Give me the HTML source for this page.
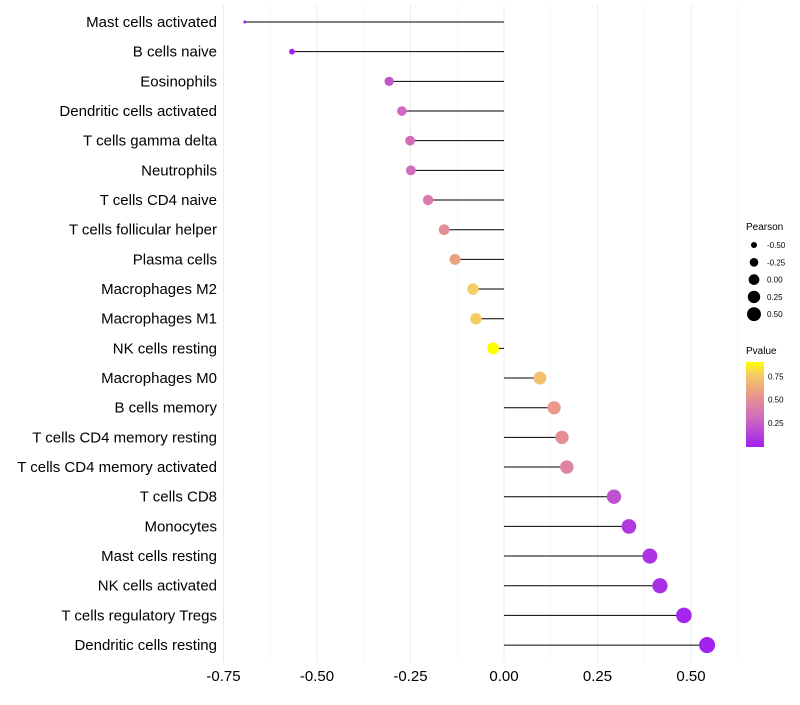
<!DOCTYPE html>
<html><head><meta charset="utf-8"><style>
body{margin:0;background:#fff;font-family:"Liberation Sans",sans-serif}
</style></head><body>
<svg id="c" width="800" height="700" xmlns="http://www.w3.org/2000/svg" font-family="Liberation Sans, sans-serif"></svg>
<script>
const categories=["Mast cells activated","B cells naive","Eosinophils","Dendritic cells activated","T cells gamma delta","Neutrophils","T cells CD4 naive","T cells follicular helper","Plasma cells","Macrophages M2","Macrophages M1","NK cells resting","Macrophages M0","B cells memory","T cells CD4 memory resting","T cells CD4 memory activated","T cells CD8","Monocytes","Mast cells resting","NK cells activated","T cells regulatory  Tregs ","Dendritic cells resting"];
const pearson=[-0.693,-0.567,-0.307,-0.273,-0.251,-0.249,-0.203,-0.160,-0.131,-0.083,-0.075,-0.029,0.096,0.134,0.155,0.168,0.294,0.334,0.390,0.417,0.481,0.543];
const pvalue=[0.0,0.02,0.22,0.3,0.32,0.32,0.4,0.5,0.6,0.78,0.78,0.91,0.72,0.56,0.5,0.45,0.2,0.1,0.08,0.06,0.03,0.01];
const xTicks=[-0.75,-0.5,-0.25,0,0.25,0.5];
const xMinor=[-0.625,-0.375,-0.125,0.125,0.375,0.625];
const sizeLegend=[-0.5,-0.25,0,0.25,0.5];
const pLegend=[0.25,0.5,0.75];
const NS="http://www.w3.org/2000/svg",svg=document.getElementById('c');
const X=v=>504+v*374;
const Y=i=>22+i*29.67;
const R=v=>Math.sqrt(Math.max(2.25,36.9+50.2*v));
const stops=[[0,[160,32,240]],[0.3,[205,105,190]],[0.55,[232,150,140]],[0.78,[245,205,100]],[0.91,[255,255,0]]];
function col(p){for(let k=1;k<stops.length;k++){if(p<=stops[k][0]){const a=stops[k-1],b=stops[k],t=(p-a[0])/(b[0]-a[0]);return 'rgb('+a[1].map((c,j)=>Math.round(c+(b[1][j]-c)*t)).join(',')+')';}}return 'rgb(255,255,0)';}
function el(t,a,txt){const e=document.createElementNS(NS,t);for(const k in a)e.setAttribute(k,a[k]);if(txt!=null)e.textContent=txt;svg.appendChild(e);return e;}
xMinor.forEach(v=>{const g=el('line',{x1:X(v),x2:X(v),y1:5,y2:662,stroke:'#f4f4f4','stroke-width':0.6});

});
xTicks.forEach(v=>{const g=el('line',{x1:X(v),x2:X(v),y1:5,y2:662,stroke:'#ebebeb','stroke-width':1});


const t=el('text',{x:X(v),y:681,'text-anchor':'middle','font-size':15,fill:'#000'},v.toFixed(2));

});
categories.forEach((c,i)=>{const y=Y(i);
const t=el('text',{x:217,y:y+5,'text-anchor':'end','font-size':15,fill:'#000'},c);


const l=el('line',{x1:X(0),x2:X(pearson[i]),y1:y,y2:y,stroke:'#000','stroke-width':1});


const d=el('circle',{cx:X(pearson[i]),cy:y,r:R(pearson[i]),fill:col(pvalue[i])});

});
const lt=el('text',{x:746,y:230,'font-size':10},'Pearson');


sizeLegend.forEach((v,k)=>{const y=245+k*17.3;
const d=el('circle',{cx:754,cy:y,r:R(v)*0.88,fill:'#000'});


const t=el('text',{x:767,y:y+3,'font-size':8},v.toFixed(2));

});
const pt=el('text',{x:746,y:354,'font-size':10},'Pvalue');


const defs=el('defs',{});const lg=document.createElementNS(NS,'linearGradient');lg.setAttribute('id','g');lg.setAttribute('x1','0');lg.setAttribute('y1','1');lg.setAttribute('x2','0');lg.setAttribute('y2','0');
stops.forEach(s=>{const st=document.createElementNS(NS,'stop');st.setAttribute('offset',s[0]/0.91);st.setAttribute('stop-color',col(s[0]));lg.appendChild(st);});defs.appendChild(lg);
const cb=el('rect',{x:746,y:362,width:18,height:85,fill:'url(#g)'});


pLegend.forEach(v=>{const y=446-v*92.6;
const t=el('text',{x:768,y:y+3,'font-size':8},v.toFixed(2));

});
</script>
</body></html>
